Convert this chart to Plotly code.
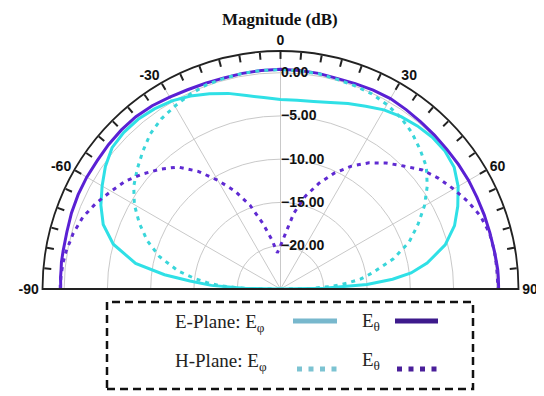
import plotly.graph_objects as go

# ---------------- data ----------------
angles = [-90, -89, -87, -85, -83, -80, -75, -70, -65, -60, -55, -50, -45, -40,
          -35, -30, -25, -20, -15, -10, -5, 0, 5, 10, 15, 20, 25, 30, 35, 40,
          45, 50, 55, 60, 65, 70, 75, 80, 83, 85, 87, 89, 90]

# E-Plane: E_phi (solid cyan)
e_plane_ephi = [-25, -21, -17, -14.5, -11.5, -8, -5, -3.2, -2.1, -1.2, -0.3, 0.4, 0.6, 0.6,
                0.4, 0.1, -0.4, -1.0, -1.6, -2.3, -2.8, -3.1, -3.1, -3.0, -2.7, -2.2, -1.7, -1.1, -0.7, -0.4,
                -0.2, -0.2, -0.5, -1.3, -2.4, -3.6, -5.3, -7.8, -9.8, -12, -15, -20, -25]

# E-Plane: E_theta (solid purple)
e_plane_etheta = [0.4, 0.4, 0.45, 0.45, 0.5, 0.5, 0.55, 0.7, 0.8, 0.85, 0.85, 0.95, 1.0, 1.0,
                  0.85, 0.6, 0.4, 0.3, 0.25, 0.3, 0.35, 0.4, 0.35, 0.3, 0.2, 0.25, 0.35, 0.4, 0.3, 0.2,
                  0.15, 0.1, 0.1, 0.1, 0.05, 0.05, 0.05, 0.1, 0.15, 0.2, 0.2, 0.2, 0.2]

# H-Plane: E_phi (dotted cyan)
h_plane_ephi = [-25, -21, -18, -16.5, -15, -13, -10.5, -8.6, -7.0, -5.5, -4.3, -3.4, -2.5, -1.6,
                -1.0, -0.6, -0.2, 0.1, 0.2, 0.3, 0.35, 0.35, 0.3, 0.25, 0.1, 0.0, -0.1, -0.4, -0.8, -1.4,
                -2.2, -3.0, -4.3, -5.8, -7.5, -9.2, -11.5, -14.2, -15.7, -17.3, -19, -21.5, -25]

# H-Plane: E_theta (dotted purple)
h_plane_etheta = [0.45, 0.45, 0.4, 0.35, 0.3, 0.15, -0.2, -0.7, -1.5, -2.4, -3.2, -4.3, -5.4, -6.6,
                  -8.4, -10.5, -12.5, -14.7, -17.2, -19.2, -20.8, -20.0, -18.6, -16.1, -13.9, -12.0, -10.2, -8.6, -7.2, -6.0,
                  -4.9, -3.6, -2.7, -1.9, -1.1, -0.4, 0.0, 0.1, 0.1, 0.1, 0.1, 0.1, 0.1]

radial_range = [-25, 2.5]
radial_ticks = [-20, -15, -10, -5, 0]
angular_tick_vals = list(range(-90, 91, 5))
angular_tick_text = [str(v) if v % 30 == 0 else "" for v in angular_tick_vals]
spoke_angles = [-60, -30, 0, 30, 60]

# ---------------- figure ----------------
W, H = 544, 396
OFF = 8  # the page places the figure 8px in from the top-left corner
CX, CY, R = 280.5, 289, 238


def px(x):
    return (x - OFF) / W


def py(y):
    return 1 - (y - OFF) / H


fig = go.Figure()

# grid spokes
for a in spoke_angles:
    fig.add_trace(go.Scatterpolar(r=radial_range, theta=[a, a], mode="lines",
                                  line=dict(color="#c9c9c9", width=1),
                                  hoverinfo="skip", showlegend=False))

# baseline (-90 .. 90 diameter)
fig.add_trace(go.Scatterpolar(r=[radial_range[1], radial_range[0], radial_range[1]],
                              theta=[-90, 0, 90], mode="lines",
                              line=dict(color="#222222", width=2),
                              hoverinfo="skip", showlegend=False))

series = [
    ("E-Plane: Eφ", e_plane_ephi, "#2fe0e6", "solid"),
    ("E-Plane: Eθ", e_plane_etheta, "#5a20d4", "solid"),
    ("H-Plane: Eφ", h_plane_ephi, "#3ad6da", "4px,5px"),
    ("H-Plane: Eθ", h_plane_etheta, "#5f2ad2", "4px,5px"),
]
for name, vals, col, dash in series:
    fig.add_trace(go.Scatterpolar(r=vals, theta=angles, mode="lines", name=name,
                                  line=dict(color=col, width=3, dash=dash),
                                  showlegend=False))

tick_font = dict(family="Liberation Sans, Arial", size=14, color="#111111", weight="bold")

fig.update_layout(
    width=W, height=H,
    margin=dict(l=0, r=0, t=0, b=0, autoexpand=False),
    paper_bgcolor="white",
    showlegend=False,
    polar=dict(
        domain=dict(x=[px(CX - R), px(CX + R)], y=[py(CY), py(CY - R)]),
        sector=[0, 180],
        bgcolor="white",
        angularaxis=dict(
            rotation=90, direction="clockwise",
            tickmode="array", tickvals=angular_tick_vals, ticktext=angular_tick_text,
            ticks="inside", ticklen=7, tickwidth=1.5, tickcolor="#222222",
            showline=True, linecolor="#222222", linewidth=1.8,
            showgrid=False, tickfont=tick_font,
        ),
        radialaxis=dict(
            range=radial_range, tickmode="array", tickvals=radial_ticks,
            tickformat=".2f", angle=90, tickangle=90, side="clockwise",
            showline=False, ticks="", gridcolor="#c9c9c9", gridwidth=1,
            tickfont=tick_font,
        ),
    ),
)

# title
fig.add_annotation(text="<b>Magnitude (dB)</b>", x=px(280), y=py(19), xref="paper", yref="paper",
                   showarrow=False, xanchor="center", yanchor="middle",
                   font=dict(family="Liberation Serif", size=17, color="#111111"))

# legend (drawn manually)
fig.add_shape(type="rect", xref="paper", yref="paper",
              x0=px(107), x1=px(473), y0=py(389), y1=py(302),
              line=dict(color="#111111", width=2.5, dash="8px,5px"))

legend_font = dict(family="Liberation Serif", size=19, color="#222222")
for label, yy in [("E-Plane: E<sub>φ</sub>", 323), ("H-Plane: E<sub>φ</sub>", 362)]:
    fig.add_annotation(text=label, x=px(173), y=py(yy), xref="paper", yref="paper",
                       showarrow=False, xanchor="left", yanchor="middle", font=legend_font)
for yy in [322, 361]:
    fig.add_annotation(text="E<sub>θ</sub>", x=px(360), y=py(yy), xref="paper", yref="paper",
                       showarrow=False, xanchor="left", yanchor="middle", font=legend_font)

swatches = [
    (293, 337, 321, "#78b8cd", "solid"),
    (395, 438, 321, "#3d1a8c", "solid"),
    (297, 337, 369, "#7cc3d2", "5px,6.5px"),
    (397, 437, 369, "#4a1f9a", "5px,6.5px"),
]
for x0, x1, yy, col, dash in swatches:
    fig.add_shape(type="line", xref="paper", yref="paper",
                  x0=px(x0), x1=px(x1), y0=py(yy), y1=py(yy),
                  line=dict(color=col, width=5, dash=dash))

fig.write_html("out.html")
